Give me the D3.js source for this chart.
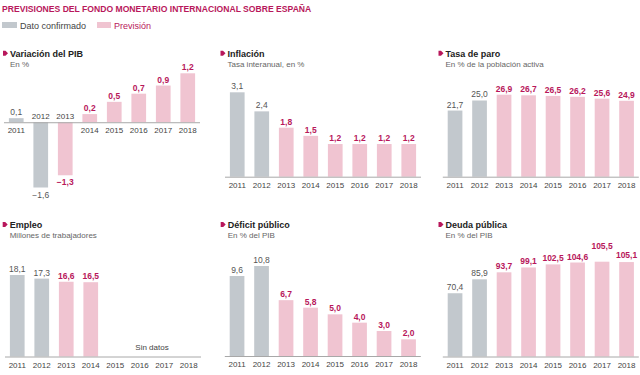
<!DOCTYPE html>
<html><head><meta charset="utf-8">
<script src="https://cdn.jsdelivr.net/npm/d3@7"></script>
<style>
html,body{margin:0;padding:0;background:#fff;}
svg{display:block;font-family:"Liberation Sans",Arial,sans-serif;}
</style></head>
<body>
<svg id="chart" width="640" height="375"></svg>
<script>
const years = ["2011","2012","2013","2014","2015","2016","2017","2018"];
const confirmedYears = ["2011","2012"];
const pibValues = [0.1, -1.6, -1.3, 0.2, 0.5, 0.7, 0.9, 1.2];
const inflacionValues = [3.1, 2.4, 1.8, 1.5, 1.2, 1.2, 1.2, 1.2];
const paroValues = [21.7, 25.0, 26.9, 26.7, 26.5, 26.2, 25.6, 24.9];
const empleoValues = [18.1, 17.3, 16.6, 16.5, null, null, null, null];
const deficitValues = [9.6, 10.8, 6.7, 5.8, 5.0, 4.0, 3.0, 2.0];
const deudaValues = [70.4, 85.9, 93.7, 99.1, 102.5, 104.6, 105.5, 105.1];

const titleText = "PREVISIONES DEL FONDO MONETARIO INTERNACIONAL SOBRE ESPAÑA";
const legendLabels = ["Dato confirmado", "Previsión"];
const panelTitles = ["Variación del PIB","Inflación","Tasa de paro","Empleo","Déficit público","Deuda pública"];
const panelSubtitles = ["En %","Tasa interanual, en %","En % de la población activa","Millones de trabajadores","En % del PIB","En % del PIB"];
const noDataText = "Sin datos";

const C = {
  magenta: "#b8175b",
  gray: "#c2c8cd",
  pink: "#f0c4d1",
  text: "#444",
  sub: "#666",
  axis: "#a8a8a8"
};

const svg = d3.select("#chart");

// Header
svg.append("text").attr("x", 2).attr("y", 12)
  .attr("font-size", 8.6).attr("font-weight", "bold").attr("fill", C.magenta)
  .text(titleText);

// Legend
const legend = [
  {label: legendLabels[0], color: C.gray, textColor: "#444", x: 2, w: 15},
  {label: legendLabels[1], color: C.pink, textColor: C.magenta, x: 97, w: 14}
];
legend.forEach(l => {
  svg.append("rect").attr("x", l.x).attr("y", 22).attr("width", l.w).attr("height", 6).attr("fill", l.color);
  svg.append("text").attr("x", l.x + l.w + 3).attr("y", 28.5).attr("font-size", 9).attr("fill", l.textColor).text(l.label);
});

const fmt = v => (v < 0 ? "\u2212" : "") + Math.abs(v).toFixed(1).replace(".", ",");

const panels = [
  {values: pibValues, x0: 4, tx: 10, ty: 56.7, dom: [-1.6, 1.2], rng: [187.5, 73.3]},
  {values: inflacionValues, x0: 225, tx: 227.5, ty: 56.7, dom: [0, 3.1], rng: [176.7, 92.3]},
  {values: paroValues, x0: 442.8, tx: 445.5, ty: 56.7, dom: [0, 26.9], rng: [176.7, 94.7]},
  {values: empleoValues, x0: 5, tx: 9.7, ty: 228, dom: [0, 18.1], rng: [356.5, 275]},
  {values: deficitValues, x0: 224.8, tx: 227.7, ty: 228, dom: [0, 10.8], rng: [356, 266]},
  {values: deudaValues, x0: 442.8, tx: 445.5, ty: 228, dom: [0, 105.5], rng: [356.5, 261.7], lift: {"2017": 10, "2018": 1.5}}
];

panels.forEach((p, i) => {
  const g = svg.append("g");
  const x = d3.scaleBand().domain(years).range([p.x0, p.x0 + 196]).paddingInner(0.4).paddingOuter(0.2);
  const y = d3.scaleLinear().domain(p.dom).range(p.rng);
  const data = years.map((yr, j) => ({year: yr, value: p.values[j], confirmed: confirmedYears.includes(yr)}));

  // title bullet
  g.append("path")
    .attr("d", `M${p.tx - 7},${p.ty - 6} h2.5 l2.5,2.5 l-2.5,2.5 h-2.5 Z`)
    .attr("fill", C.magenta);
  g.append("text").attr("x", p.tx).attr("y", p.ty).attr("font-size", 9).attr("font-weight", "bold").attr("fill", "#222").text(panelTitles[i]);
  g.append("text").attr("x", p.tx).attr("y", p.ty + 10).attr("font-size", 8).attr("fill", C.sub).text(panelSubtitles[i]);

  const valid = data.filter(d => d.value !== null);
  const y0 = y(0);

  g.selectAll("rect.bar").data(valid).join("rect")
    .attr("class", "bar")
    .attr("x", d => x(d.year))
    .attr("width", x.bandwidth())
    .attr("y", d => Math.min(y(d.value), y0))
    .attr("height", d => Math.abs(y(d.value) - y0))
    .attr("fill", d => d.confirmed ? C.gray : C.pink);

  // baseline axis
  const axis = d3.axisBottom(x).tickSize(0).tickPadding(0);
  const ag = g.append("g").attr("transform", `translate(0,${y0})`).call(axis);
  ag.select(".domain").attr("stroke", C.axis).attr("stroke-width", 1).attr("d", `M${p.x0},0.5H${p.x0 + 196}`);
  ag.selectAll(".tick text")
    .attr("font-family", "Liberation Sans, Arial, sans-serif")
    .attr("font-size", 8).attr("fill", C.text)
    .attr("dy", null)
    .attr("y", yr => {
      const v = p.values[years.indexOf(yr)];
      return (v !== null && v < 0) ? -3.5 : 11;
    });

  // value labels
  const lift = p.lift || {};
  g.selectAll("text.val").data(valid).join("text")
    .attr("class", "val")
    .attr("x", d => x(d.year) + x.bandwidth() / 2)
    .attr("y", d => d.value < 0 ? y(d.value) + 10 : y(d.value) - 3 - (lift[d.year] || 0))
    .attr("text-anchor", "middle")
    .attr("font-size", 8.5)
    .attr("font-weight", d => d.confirmed ? "normal" : "bold")
    .attr("fill", d => d.confirmed ? "#555" : C.magenta)
    .text(d => fmt(d.value));

  if (valid.length < data.length) {
    const missing = data.filter(d => d.value === null);
    const cx = (x(missing[0].year) + x(missing[missing.length - 1].year) + x.bandwidth()) / 2;
    g.append("text").attr("x", cx).attr("y", y0 - 7).attr("text-anchor", "middle")
      .attr("font-size", 8).attr("fill", C.text).text(noDataText);
  }
});
</script>
</body></html>
